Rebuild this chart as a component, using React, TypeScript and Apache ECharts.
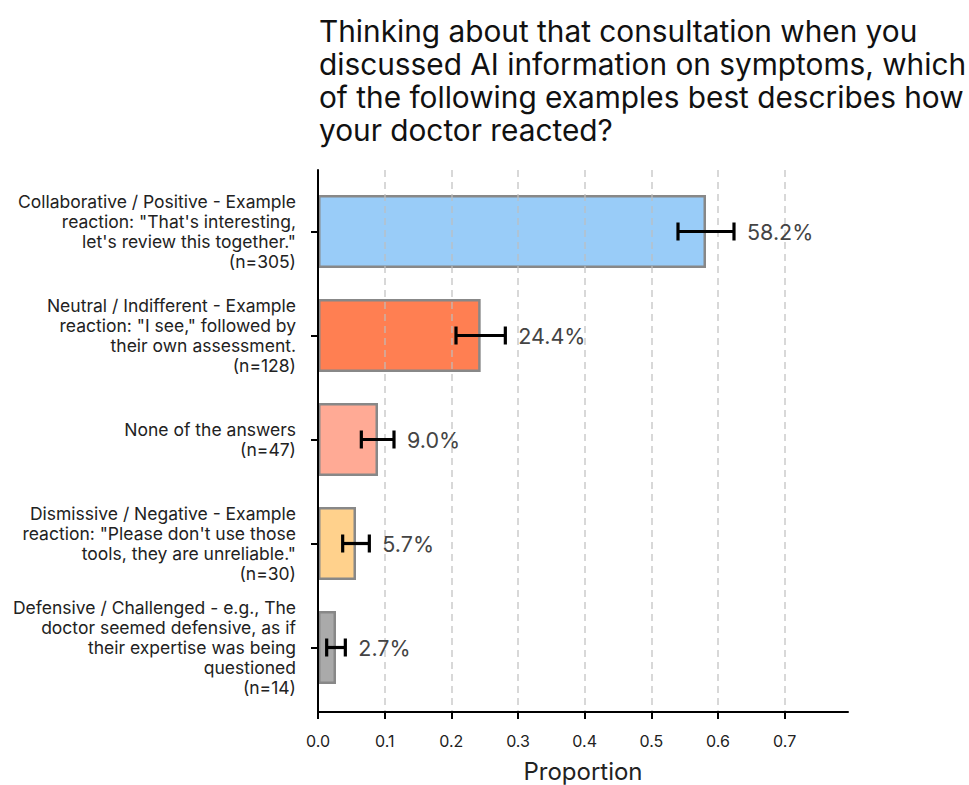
import React, { useEffect, useRef } from "react";
import * as echarts from "echarts";

// Response categories, top to bottom
const categories: string[] = [
  'Collaborative / Positive - Example\nreaction: "That\'s interesting,\nlet\'s review this together."\n(n=305)',
  'Neutral / Indifferent - Example\nreaction: "I see," followed by\ntheir own assessment.\n(n=128)',
  "None of the answers\n(n=47)",
  'Dismissive / Negative - Example\nreaction: "Please don\'t use those\ntools, they are unreliable."\n(n=30)',
  "Defensive / Challenged - e.g., The\ndoctor seemed defensive, as if\ntheir expertise was being\nquestioned\n(n=14)",
];

// Share of respondents per category
const proportions: number[] = [0.582, 0.244, 0.09, 0.057, 0.027];
// 95% confidence interval bounds
const ciLower: number[] = [0.54, 0.207, 0.065, 0.037, 0.013];
const ciUpper: number[] = [0.624, 0.281, 0.114, 0.077, 0.041];

const barColors: string[] = ["#99CCF8", "#FF7F52", "#FFAA95", "#FFD18C", "#AAAAAA"];

const xTicks: number[] = [0, 0.1, 0.2, 0.3, 0.4, 0.5, 0.6, 0.7];

const titleText =
  "Thinking about that consultation when you\ndiscussed AI information on symptoms, which\nof the following examples best describes how\nyour doctor reacted?";

const FONT = "Inter, Roboto, sans-serif";

export default function App() {
  const ref = useRef<HTMLDivElement>(null);

  useEffect(() => {
    if (!ref.current) return;
    const chart = echarts.init(ref.current, null, { renderer: "svg" });

    const plotLeft = 318;
    const plotTop = 170;
    const plotBottom = 712;
    const plotRight = 848;
    const xMax = 0.795;
    const plotWidth = plotRight - plotLeft;
    const pxPerUnit = plotWidth / xMax;
    const tickMax = xTicks[xTicks.length - 1];

    const option: echarts.EChartsOption = {
      animation: false,
      backgroundColor: "#ffffff",
      textStyle: { fontFamily: FONT },
      grid: [
        // bars
        { left: plotLeft, top: 179.5, width: plotWidth, height: 520, containLabel: false },
        // frame (spines)
        { left: plotLeft, top: plotTop, width: plotWidth, height: plotBottom - plotTop },
        // ticks, tick labels and dashed grid lines
        {
          left: plotLeft,
          top: plotTop,
          width: tickMax * pxPerUnit,
          height: plotBottom - plotTop,
        },
      ],
      xAxis: [
        {
          gridIndex: 0,
          type: "value",
          min: 0,
          max: xMax,
          show: false,
        },
        {
          gridIndex: 1,
          type: "value",
          min: 0,
          max: xMax,
          axisLine: { show: true, lineStyle: { color: "#000", width: 2 } },
          axisTick: { show: false },
          axisLabel: { show: false },
          splitLine: { show: false },
          z: 5,
        },
        {
          gridIndex: 2,
          type: "value",
          min: 0,
          max: tickMax,
          interval: 0.1,
          axisLine: { show: false },
          axisTick: { show: true, length: 7, lineStyle: { color: "#000", width: 2 } },
          axisLabel: {
            show: true,
            margin: 21,
            fontSize: 16,
            color: "#222",
            fontFamily: FONT,
            formatter: (v: number) => v.toFixed(1),
          },
          splitLine: {
            show: true,
            lineStyle: { color: "rgba(190,190,190,0.75)", type: [7, 5], width: 1.6 },
          },
          z: 4,
        },
      ],
      yAxis: [
        {
          gridIndex: 0,
          type: "category",
          data: categories,
          inverse: true,
          axisLine: { show: false },
          axisTick: {
            show: true,
            alignWithLabel: true,
            length: 7,
            lineStyle: { color: "#000", width: 2 },
          },
          axisLabel: {
            margin: 22,
            fontSize: 17.5,
            lineHeight: 20,
            color: "#222",
            align: "right",
            fontFamily: FONT,
          },
        },
        {
          gridIndex: 1,
          type: "value",
          axisLine: { show: true, lineStyle: { color: "#000", width: 2 } },
          axisTick: { show: false },
          axisLabel: { show: false },
          splitLine: { show: false },
          z: 5,
        },
        {
          gridIndex: 2,
          type: "value",
          show: false,
        },
      ],
      series: [
        {
          type: "bar",
          xAxisIndex: 0,
          yAxisIndex: 0,
          barWidth: 73,
          data: proportions.map((v, i) => ({
            value: v,
            itemStyle: {
              color: barColors[i],
              borderColor: "#888888",
              borderWidth: 2.5,
            },
          })),
          z: 2,
        },
        {
          type: "custom",
          xAxisIndex: 0,
          yAxisIndex: 0,
          z: 10,
          data: proportions.map((p, i) => [i, ciLower[i], ciUpper[i], p]),
          renderItem: (params: any, api: any) => {
            const idx = api.value(0);
            const lo = api.coord([api.value(1), idx]);
            const hi = api.coord([api.value(2), idx]);
            const pct = (api.value(3) * 100).toFixed(1) + "%";
            const y = lo[1];
            const cap = 9;
            const ls = { stroke: "#000", lineWidth: 3.2 };
            return {
              type: "group",
              children: [
                { type: "line", shape: { x1: lo[0], y1: y, x2: hi[0], y2: y }, style: ls },
                { type: "line", shape: { x1: lo[0], y1: y - cap, x2: lo[0], y2: y + cap }, style: ls },
                { type: "line", shape: { x1: hi[0], y1: y - cap, x2: hi[0], y2: y + cap }, style: ls },
                {
                  type: "text",
                  x: hi[0] + 13,
                  y: y,
                  style: {
                    text: pct,
                    fontSize: 21.5,
                    fontFamily: FONT,
                    fill: "#444",
                    textAlign: "left",
                    textVerticalAlign: "middle",
                  },
                },
              ],
            };
          },
        },
      ],
      graphic: [
        {
          type: "text",
          left: 319,
          top: 14.5,
          style: {
            text: titleText,
            fontSize: 29.8,
            lineHeight: 33,
            fontFamily: FONT,
            fill: "#111",
          },
        },
        {
          type: "text",
          x: 583,
          y: 771,
          style: {
            text: "Proportion",
            fontSize: 24,
            fontFamily: FONT,
            fill: "#222",
            textAlign: "center",
            textVerticalAlign: "middle",
          },
        },
      ],
    };

    chart.setOption(option);
    return () => chart.dispose();
  }, []);

  return (
    <div
      ref={ref}
      style={{ position: "fixed", left: 0, top: 0, width: 969, height: 785, background: "#fff" }}
    />
  );
}
